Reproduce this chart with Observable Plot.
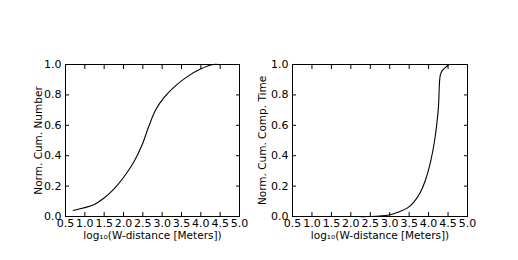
<!DOCTYPE html>
<html><head><meta charset="utf-8">
<script src="https://cdn.jsdelivr.net/npm/d3@7"></script>
<script src="https://cdn.jsdelivr.net/npm/@observablehq/plot@0.6"></script>
<style>
body{margin:0;background:#fff;}
#wrap{position:relative;width:518px;height:260px;background:#fff;}
#wrap > div{position:absolute;top:0;}
</style></head><body><div id="wrap"><div id="a" style="left:0"></div><div id="b" style="left:250px"></div></div>
<script>
const xTicks = [0.5,1.0,1.5,2.0,2.5,3.0,3.5,4.0,4.5,5.0];
const yTicks = [0.0,0.2,0.4,0.6,0.8,1.0];
const xLabel = "log₁₀(W-distance [Meters])";
const leftLabel = "Norm. Cum. Number";
const rightLabel = "Norm. Cum. Comp. Time";
const leftX = [0.70,1.23,1.49,1.75,2.01,2.27,2.48,2.65,2.83,3.04,3.30,3.65,3.99,4.33,4.45];
const leftY = [0.04,0.077,0.12,0.18,0.26,0.36,0.47,0.59,0.70,0.78,0.85,0.92,0.97,1.0,1.0];
const rightX = [0.70,1.50,2.00,2.46,2.98,3.23,3.45,3.62,3.79,3.92,4.05,4.16,4.25,4.30,4.35,4.43,4.52];
const rightY = [0,0,0,0,0.01,0.03,0.055,0.095,0.16,0.24,0.36,0.51,0.71,0.93,0.96,0.98,1.0];

const fmt = d3.format(".1f");
const blank = () => "";

function panel(xs, ys, ylabel, width, ml, mr, labelDx) {
  const data = xs.map((x, i) => ({x, y: ys[i]}));
  return Plot.plot({
    width, height: 260, marginLeft: ml, marginRight: mr, marginTop: 64, marginBottom: 44,
    style: {fontFamily: "DejaVu Sans", fontSize: "11px", color: "#000", background: "transparent", overflow: "visible"},
    x: {domain: [0.5, 5.0]},
    y: {domain: [0, 1]},
    marks: [
      Plot.line(data, {x: "x", y: "y", stroke: "#000", strokeWidth: 1.1, curve: "catmull-rom"}),
      Plot.frame({stroke: "#000", strokeWidth: 1}),
      Plot.axisX(xTicks, {anchor: "bottom", tickSize: 0, tickPadding: 3, tickFormat: fmt, label: null, fill: "#000"}),
      Plot.axisX(xTicks, {anchor: "bottom", tickSize: -4, tickFormat: blank, label: null, stroke: "#000"}),
      Plot.axisX(xTicks, {anchor: "top", tickSize: -4, tickFormat: blank, label: null, stroke: "#000"}),
      Plot.axisY(yTicks, {anchor: "left", tickSize: 0, tickPadding: 4, tickFormat: fmt, label: null, fill: "#000"}),
      Plot.axisY(yTicks, {anchor: "left", tickSize: -4, tickFormat: blank, label: null, stroke: "#000"}),
      Plot.axisY(yTicks, {anchor: "right", tickSize: -4, tickFormat: blank, label: null, stroke: "#000"}),
      Plot.text([xLabel], {text: d => d, frameAnchor: "bottom", dy: 19, lineAnchor: "middle", textAnchor: "middle", fill: "#000", fontSize: 10.5}),
      Plot.text([ylabel], {text: d => d, frameAnchor: "left", dx: labelDx, rotate: -90, lineAnchor: "middle", textAnchor: "middle", fill: "#000", fontSize: 10.5})
    ]
  });
}

document.getElementById("a").append(panel(leftX, leftY, leftLabel, 250, 65, 11, -27));
document.getElementById("b").append(panel(rightX, rightY, rightLabel, 268, 42, 51, -30));
</script></body></html>
